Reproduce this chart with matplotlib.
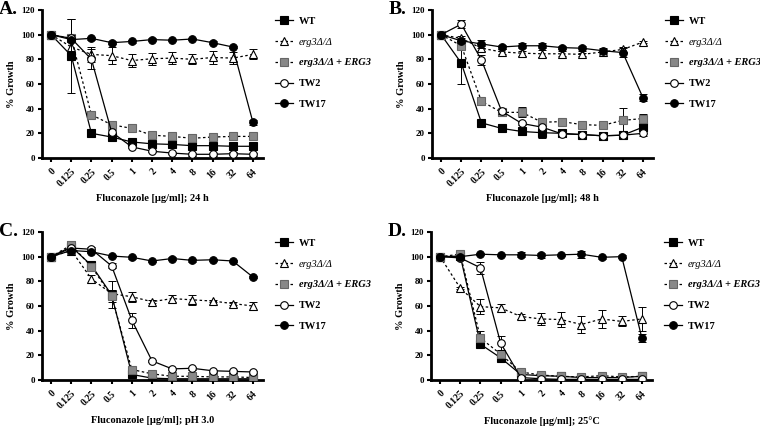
import numpy as np
import matplotlib
matplotlib.use('Agg')
from matplotlib import pyplot as plt

plt.rcParams['font.family'] = ['Liberation Serif', 'DejaVu Serif']
plt.rcParams['font.weight'] = 'bold'

doses = ['0', '0.125', '0.25', '0.5', '1', '2', '4', '8', '16', '32', '64']
strains = ['WT', 'erg3Δ/Δ', 'erg3Δ/Δ + ERG3', 'TW2', 'TW17']
panel_letters = ['A.', 'B.', 'C.', 'D.']
conditions = ['24 h', '48 h', 'pH 3.0', '25°C']

# panel A: 24 h
a_wt = [100, 83, 20, 17, 13, 11.5, 11, 10, 10, 9.5, 9.5]
a_erg3 = [100, 90, 84, 83, 79, 80.5, 81, 80, 81.5, 81, 84]
a_comp = [100, 97, 35, 27, 24, 18.5, 17.5, 16, 17, 17.5, 17.5]
a_tw2 = [100, 97, 80, 21, 9, 5.5, 4, 3, 3, 3.5, 3]
a_tw17 = [100, 96, 97, 93.5, 94.5, 96, 95.5, 96.5, 93.5, 90, 29]
a_err = [[0, 30, 1, 1, 1, 1, 1, 1, 1, 1, 1],
         [0, 4, 6, 7, 5, 5, 5, 4, 5, 5, 4],
         [0, 16, 2, 1, 1, 1, 1, 1, 1, 1, 1],
         [0, 3, 8, 2, 1, 1, 1, 1, 1, 1, 1],
         [0, 1, 1, 1, 1, 1, 1, 1, 1, 1, 2]]

# panel B: 48 h
b_wt = [100, 77, 28.5, 24, 21.5, 20.5, 20, 19, 18, 18.5, 25]
b_erg3 = [100, 97, 89, 86, 85, 84.5, 84.5, 84, 86, 88, 94]
b_comp = [100, 91, 46, 37, 37, 29, 29.5, 27, 26.5, 30.5, 32]
b_tw2 = [100, 108.5, 79.5, 38, 28, 25, 19.5, 19, 18, 18.5, 20]
b_tw17 = [100, 95, 92.5, 90, 91, 91, 89.5, 89, 87, 85.5, 49]
b_err = [[0, 17, 1, 1, 2, 4, 1, 1, 1, 1, 3],
         [0, 2, 2, 2, 2, 3, 2, 1, 2, 2, 1],
         [0, 3, 3, 3, 4, 2, 2, 1, 1, 10, 4],
         [0, 3, 4, 2, 1, 1, 1, 1, 1, 1, 2],
         [0, 2, 3, 2, 2, 2, 1, 2, 2, 4, 3]]

# panel C: pH 3.0
c_wt = [100, 108, 93, 69, 4.5, 1.5, 1, 1, 1, 1, 1]
c_erg3 = [100, 105, 82, 70, 67.5, 63.5, 66, 65, 64, 62, 60]
c_comp = [100, 109.5, 92, 68, 8.5, 5, 3, 3, 2.5, 2.5, 2]
c_tw2 = [100, 107, 106, 92.5, 48.5, 15.5, 9, 9.5, 7.5, 7, 6.5]
c_tw17 = [100, 105, 104, 100.5, 99.5, 96.5, 98.5, 97, 97.5, 96.5, 83.5]
c_err = [[0, 3, 2, 11, 1, 1, 1, 1, 1, 1, 1],
         [0, 2, 3, 3, 4, 1, 3, 4, 1, 1, 3],
         [0, 3, 1, 5, 2, 1, 1, 1, 1, 1, 1],
         [0, 1, 2, 2, 6, 1, 1, 1, 1, 1, 1],
         [0, 1, 1, 1, 1, 1, 1, 1, 1, 1, 1]]

# panel D: 25 C
d_wt = [100, 100.5, 29, 18, 4.5, 3.5, 3, 2, 2, 2, 3]
d_erg3 = [100, 74.5, 59.5, 58.5, 51.5, 49.5, 49, 45, 49.5, 47.5, 49.5]
d_comp = [100, 102, 34, 21, 6.5, 4, 3, 2.5, 3.5, 2.5, 3]
d_tw2 = [100, 99, 91, 30, 2, 1, 0.5, 0.5, 0.5, 0.5, 0.5]
d_tw17 = [100, 100, 102, 101.5, 101.5, 101, 101.5, 102, 99.5, 100, 34]
d_err = [[0, 1, 2, 2, 1, 1, 1, 1, 1, 1, 1],
         [0, 1, 6, 3, 2, 5, 6, 7, 7, 4, 10],
         [0, 1, 6, 2, 1, 1, 1, 1, 1, 1, 1],
         [0, 1, 5, 6, 1, 1, 1, 1, 1, 1, 1],
         [0, 1, 1, 1, 2, 2, 1, 3, 1, 1, 3]]

panels = [
    ([a_wt, a_erg3, a_comp, a_tw2, a_tw17], a_err),
    ([b_wt, b_erg3, b_comp, b_tw2, b_tw17], b_err),
    ([c_wt, c_erg3, c_comp, c_tw2, c_tw17], c_err),
    ([d_wt, d_erg3, d_comp, d_tw2, d_tw17], d_err),
]

styles = [
    dict(marker='s', mfc='black', mec='black', ls='-'),
    dict(marker='^', mfc='white', mec='black', ls=(0, (2, 2))),
    dict(marker='s', mfc='#888888', mec='#666666', ls=(0, (2, 2))),
    dict(marker='o', mfc='white', mec='black', ls='-'),
    dict(marker='o', mfc='black', mec='black', ls='-'),
]
draw_order = [1, 2, 0, 3, 4]

# axes positions in pixels: (left, top)
pos = [(42, 10), (432, 10), (42, 232), (431, 232)]
W, H = 760, 426
aw, ah = 221, 148

fig = plt.figure(figsize=(7.6, 4.26), dpi=100)
x = np.arange(len(doses))

for k, ((series, errs), (px, py)) in enumerate(zip(panels, pos)):
    ax = fig.add_axes([px / W, 1 - (py + ah) / H, aw / W, ah / H])
    handles = [None] * 5
    for i in draw_order:
        st = styles[i]
        ax.errorbar(x, series[i], yerr=errs[i], fmt='none', ecolor='black',
                    elinewidth=0.7, capsize=3, capthick=0.7, zorder=2 + i)
        h, = ax.plot(x, series[i], color='black', lw=0.9, ls=st['ls'],
                     marker=st['marker'], ms=5.5, mfc=st['mfc'],
                     mec=st['mec'], mew=0.8, zorder=3 + i)
        handles[i] = h
    ax.set_xlim(-0.45, 10.5)
    ax.set_ylim(0, 120)
    ax.set_yticks(range(0, 121, 20))
    ax.set_xticks(x)
    ax.set_xticklabels(doses, rotation=45, ha='right', rotation_mode='anchor')
    ax.tick_params(labelsize=7, width=1.5, length=3)
    ax.tick_params(axis='y', labelsize=6.5, pad=2)
    for s in ['top', 'right']:
        ax.spines[s].set_visible(False)
    for s in ['left', 'bottom']:
        ax.spines[s].set_linewidth(2)
    ax.set_ylabel('% Growth', fontsize=7.5, fontweight='bold', labelpad=4)
    ax.set_xlabel('Fluconazole [µg/ml]; ' + conditions[k], fontsize=7.5,
                  fontweight='bold', labelpad=4)
    ax.text(-0.195, 1.0, panel_letters[k], transform=ax.transAxes,
            fontsize=14, fontweight='bold', va='center', ha='left')
    leg = ax.legend(handles, strains, loc='upper left',
                    bbox_to_anchor=(1.03, 0.99), frameon=False, fontsize=7.5,
                    handlelength=1.7, labelspacing=1.1, handletextpad=0.6,
                    borderpad=0)
    txt = leg.get_texts()
    txt[1].set_style('italic')
    txt[1].set_weight('normal')
    txt[2].set_style('italic')

fig.savefig('out.png', dpi=100)
